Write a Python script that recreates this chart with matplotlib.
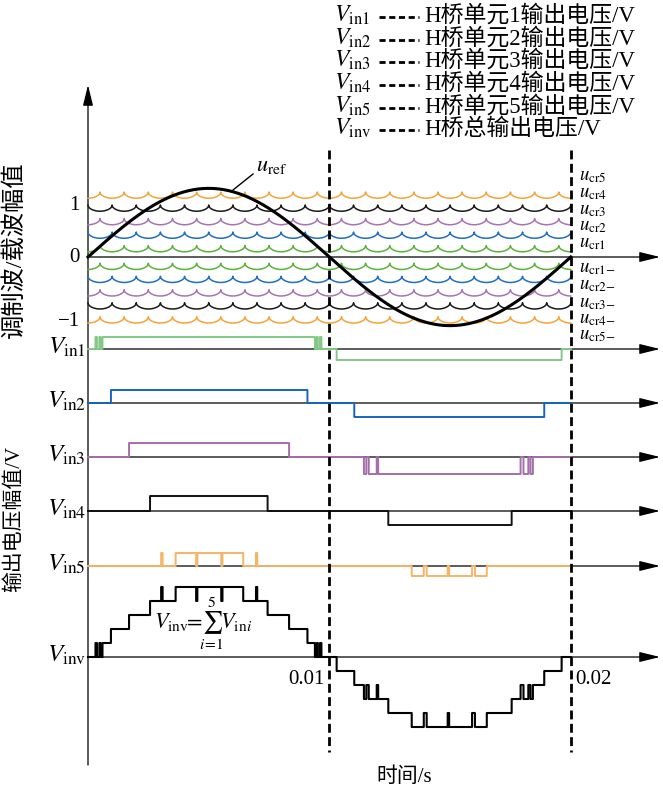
import numpy as np
import matplotlib
matplotlib.use("Agg")
import matplotlib.pyplot as plt

plt.rcParams["mathtext.fontset"] = "stix"
SERIF_CJK = ["Liberation Serif", "Noto Sans CJK SC"]

# ---------------------------------------------------------------------------
# Data (times in ms)
# ---------------------------------------------------------------------------
F_REF = 50.0          # Hz
REF_AMP = 1.32        # modulating wave amplitude
CARRIER_PERIOD = 1.0  # ms
CARRIER_DEPTH = 0.12
carrier_names = ["cr1", "cr2", "cr3", "cr4", "cr5"]
carrier_upper = [0.22, 0.48, 0.74, 1.0, 1.25]
carrier_lower = [-0.12, -0.37, -0.63, -0.88, -1.15]
carrier_phase = [0.5, 0.0, 0.5, 0.0, 0.5]
ytick_vals = [1.0, 0.0, -1.25]
ytick_text = ["1", "0", "\u22121"]

vin_pos = [
    [(0.31, 0.37), (0.47, 0.52), (0.60, 9.40), (9.48, 9.52), (9.61, 9.67)],
    [(0.95, 9.09)],
    [(1.70, 8.33)],
    [(2.57, 7.44)],
    [(3.03, 3.09), (3.63, 4.48), (4.53, 5.52), (5.57, 6.43), (6.96, 7.01)],
]
vin_neg = [
    [(10.30, 19.62)],
    [(11.03, 18.90)],
    [(11.43, 11.53), (11.63, 11.96), (12.02, 17.92), (18.04, 18.24), (18.33, 18.43)],
    [(12.44, 17.55)],
    [(13.41, 13.91), (14.03, 14.90), (14.96, 15.91), (16.03, 16.52)],
]
legend_text = ["H桥单元1输出电压/V", "H桥单元2输出电压/V", "H桥单元3输出电压/V",
               "H桥单元4输出电压/V", "H桥单元5输出电压/V", "H桥总输出电压/V"]
legend_sym = [r"$V_{\rm in1}$", r"$V_{\rm in2}$", r"$V_{\rm in3}$",
              r"$V_{\rm in4}$", r"$V_{\rm in5}$", r"$V_{\rm inv}$"]

# ---------------------------------------------------------------------------
# Style / layout (pixel rows, y grows downward)
# ---------------------------------------------------------------------------
W, H = 663, 794
X0_PX, PX_PER_MS = 88.0, 24.14
REF_Y, REF_SCALE = 257, 52.0
VIN_Y = [349, 403, 457, 511, 566]
VIN_SCALE_POS = [12, 13, 14, 15, 13]
VIN_SCALE_NEG = [11, 14, 17, 14, 10]
VINV_Y, VINV_SCALE = 657, 14.0
CARRIER_COLORS = ["#5DB33A", "#1F6FC5", "#A873B5", "#1a1a1a", "#F5A43A"]
VIN_COLORS = ["#84C886", "#1565C0", "#A56DAA", "#111111", "#F5B466"]
ARROW = dict(arrowstyle="-|>,head_length=0.9,head_width=0.22", lw=0.9,
             color="k", mutation_scale=14, shrinkA=0, shrinkB=0)


def t_px(x):
    return (x - X0_PX) / PX_PER_MS


def level_of(t, pos, neg):
    lv = np.zeros_like(t)
    for a, b in pos:
        lv[(t >= a) & (t < b)] = 1
    for a, b in neg:
        lv[(t >= a) & (t < b)] = -1
    return lv


fig = plt.figure(figsize=(W / 100, H / 100), dpi=100)
ax = fig.add_axes([0, 0, 1, 1])
ax.set_xlim(t_px(0), t_px(W))
ax.set_ylim(H, 0)
ax.axis("off")

# axes lines
ax.annotate("", xy=(0, 85), xytext=(0, 765), arrowprops=ARROW)
for y in [REF_Y] + VIN_Y + [VINV_Y]:
    ax.annotate("", xy=(t_px(660), y), xytext=(0, y), arrowprops=ARROW)

t = np.linspace(0, 20, 20001)

# carriers: scalloped arcs with upward cusps
for k in range(5):
    shape = np.abs(np.sin(np.pi * (t / CARRIER_PERIOD - carrier_phase[k]))) ** 0.45
    for top in (carrier_upper[k], carrier_lower[k]):
        u = top - CARRIER_DEPTH * shape
        ax.plot(t, REF_Y - u * REF_SCALE, color=CARRIER_COLORS[k], lw=1.1, zorder=3)

# modulating wave
u_ref = REF_AMP * np.sin(2 * np.pi * F_REF * t / 1000)
ax.plot(t, REF_Y - u_ref * REF_SCALE, color="k", lw=2.2, zorder=4)

# H-bridge outputs
total = np.zeros_like(t)
for i in range(5):
    lv = level_of(t, vin_pos[i], vin_neg[i])
    total += lv
    y = VIN_Y[i] - np.where(lv > 0, lv * VIN_SCALE_POS[i], lv * VIN_SCALE_NEG[i])
    ax.plot(t, y, color=VIN_COLORS[i], lw=1.4, drawstyle="steps-post", zorder=3)
    ax.text(t_px(86), VIN_Y[i] - 2, r"$V_{\rm in%d}$" % (i + 1), fontsize=18,
            ha="right", va="center")
ax.plot(t, VINV_Y - total * VINV_SCALE, color="k", lw=1.5,
        drawstyle="steps-post", zorder=3)
ax.text(t_px(86), VINV_Y - 2, r"$V_{\rm inv}$", fontsize=18, ha="right", va="center")

# dashed period markers
for tm in (10, 20):
    ax.plot([tm, tm], [150, 752], color="k", lw=2.0, dashes=(3.2, 1.6), zorder=5)
ax.text(t_px(325), 680, "0.01", fontsize=15, family=SERIF_CJK, ha="right", va="center")
ax.text(t_px(575), 680, "0.02", fontsize=15, family=SERIF_CJK, ha="left", va="center")

# top panel tick labels
for v, s in zip(ytick_vals, ytick_text):
    ax.text(t_px(80), REF_Y - v * REF_SCALE, s, fontsize=15, family=SERIF_CJK,
            ha="right", va="center")

# carrier labels
lab_up = [243, 226, 210, 193, 176]
lab_dn = [268, 285, 302, 319, 335]
for k in range(5):
    ax.text(t_px(579), lab_up[k], r"$u_{\rm %s}$" % carrier_names[k], fontsize=13.5,
            ha="left", va="center")
    ax.text(t_px(579), lab_dn[k], r"$u_{\rm %s{-}}$" % carrier_names[k], fontsize=13.5,
            ha="left", va="center")

# u_ref label with leader
ax.text(t_px(256), 166, r"$u_{\rm ref}$", fontsize=16, ha="left", va="center")
ax.plot([t_px(253), t_px(233)], [174, 190], color="k", lw=1.0)

# sum equation
ax.text(t_px(203), 624, r"$V_{\rm inv}\!\!=\!\!\sum_{i\!=\!1}^{5}\!V_{{\rm in}i}$",
        fontsize=16, ha="center", va="center", zorder=6)

# legend block
leg_y = [15, 38, 60, 83, 106, 128]
for y, sym, txt in zip(leg_y, legend_sym, legend_text):
    ax.text(t_px(334), y, sym, fontsize=17, ha="left", va="center")
    ax.plot([t_px(379), t_px(419)], [y + 2, y + 2], color="k", lw=2.0, dashes=(2.2, 1.3))
    ax.text(t_px(424), y + 1, txt, fontsize=16.5, family=SERIF_CJK, ha="left", va="center")

# axis titles
ax.text(t_px(14), 250, "调制波/载波幅值", fontsize=17.5, family=SERIF_CJK,
        rotation=90, ha="center", va="center")
ax.text(t_px(14), 519, "输出电压幅值/V", fontsize=15, family=SERIF_CJK,
        rotation=90, ha="center", va="center")
ax.text(t_px(404), 777, "时间/s", fontsize=15, family=SERIF_CJK, ha="center", va="center")

fig.savefig("out.png", dpi=100)
